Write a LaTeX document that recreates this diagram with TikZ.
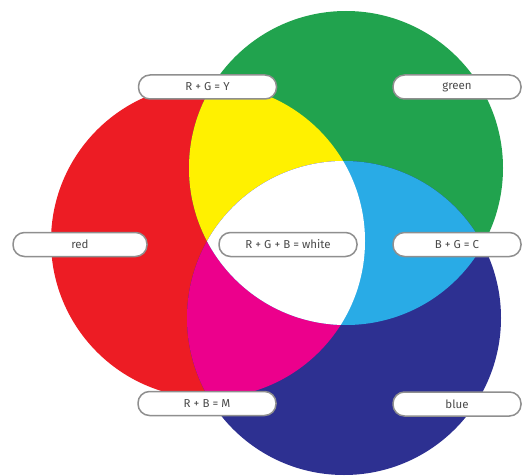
\documentclass[tikz,border=0pt]{standalone}
\usepackage{fontspec}
\setmainfont{Fira Sans}
\definecolor{cred}{HTML}{ED1C24}
\definecolor{cgreen}{HTML}{21A34E}
\definecolor{cblue}{HTML}{2D3091}
\definecolor{cyellow}{HTML}{FFF100}
\definecolor{ccyan}{HTML}{29ABE6}
\definecolor{cmagenta}{HTML}{EC008C}
\definecolor{labgray}{HTML}{8F8F8F}
\definecolor{labtext}{HTML}{4A4A4A}
\begin{document}
\begin{tikzpicture}[x=1pt,y=-1pt,
  lab/.style={draw=labgray, line width=1.5pt, fill=white, rounded corners=11.5pt,
    minimum height=24pt, text=labtext, inner sep=0pt,
    font=\fontsize{11.5}{12}\selectfont},
  labwide/.style={lab, minimum width=138pt},
  labnarrow/.style={lab, minimum width=128pt}]
\useasboundingbox (0,0) rectangle (522,476);
\def\circR{(208,241) circle [radius=157pt]}
\def\circG{(346,168) circle [radius=157pt]}
\def\circB{(344,318) circle [radius=157pt]}
% base circles
\fill[cred] \circR;
\fill[cgreen] \circG;
\fill[cblue] \circB;
% pairwise overlaps
\begin{scope}
  \clip \circR;
  \fill[cyellow] \circG;
  \fill[cmagenta] \circB;
\end{scope}
\begin{scope}
  \clip \circG;
  \fill[ccyan] \circB;
\end{scope}
\begin{scope}
  \clip \circR;
  \clip \circG;
  \fill[white] \circB;
\end{scope}
% labels
\node[labwide] (rgy) at (207.5,87) {R + G = Y};
\node[labnarrow] (green) at (457,87) {green};
\node[lab, minimum width=134pt] (red) at (80,244.5) {red};
\node[labwide] (white) at (288,244.5) {R + G + B = white};
\node[labnarrow] (bgc) at (457,244.5) {B + G = C};
\node[labwide] (rbm) at (207,403.5) {R + B = M};
\node[labnarrow] (blue) at (457,404) {blue};
\end{tikzpicture}
\end{document}
